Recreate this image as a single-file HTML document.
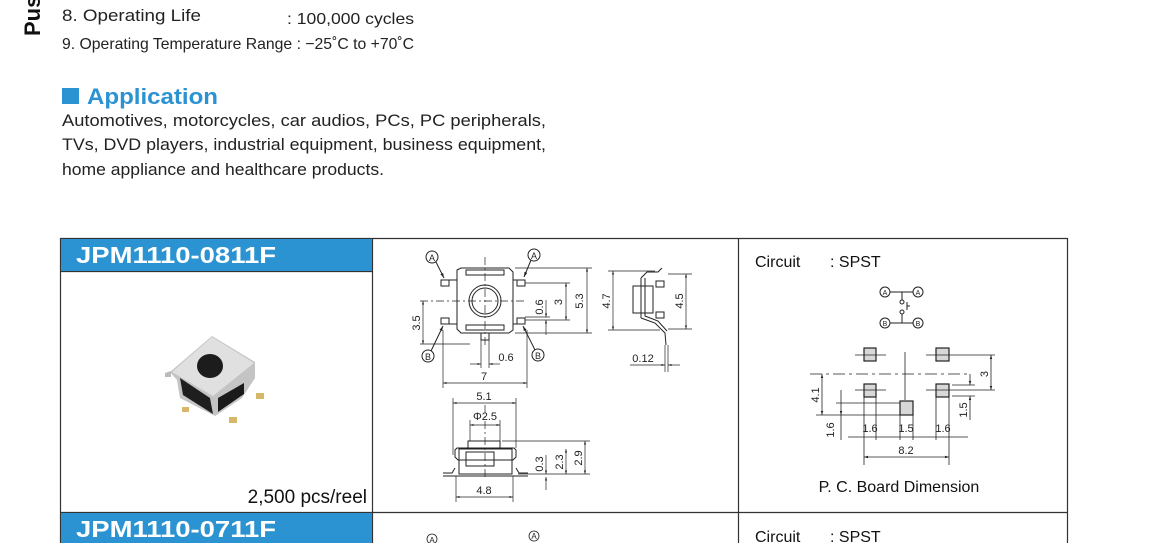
<!DOCTYPE html>
<html><head><meta charset="utf-8"><style>
html,body{margin:0;padding:0;background:#fff;width:1150px;height:543px;overflow:hidden}
svg{display:block}
text{font-family:"Liberation Sans",sans-serif}
</style></head><body>
<svg width="1150" height="543" viewBox="0 0 1150 543" xmlns="http://www.w3.org/2000/svg">
<defs>
<marker id="ar" viewBox="0 0 10 10" refX="10" refY="5" markerWidth="5" markerHeight="5" orient="auto-start-reverse"><path d="M0,2 L10,5 L0,8 z" fill="#222"/></marker>
</defs>
<text x="40" y="36" font-size="22" font-weight="bold" transform="rotate(-90 40 36)" fill="#111">Pus</text>
<text x="62" y="21" font-size="17" fill="#222" textLength="139" lengthAdjust="spacingAndGlyphs">8. Operating Life</text>
<text x="287" y="24" font-size="16" fill="#222" textLength="127" lengthAdjust="spacingAndGlyphs">: 100,000 cycles</text>
<text x="62" y="49" font-size="16" fill="#222" textLength="352" lengthAdjust="spacingAndGlyphs">9. Operating Temperature Range : −25˚C to +70˚C</text>
<rect x="62" y="88" width="17" height="16" fill="#2b93d2"/>
<text x="87" y="104" font-size="22" font-weight="bold" fill="#2b93d2" textLength="131" lengthAdjust="spacingAndGlyphs">Application</text>
<text x="62" y="126" font-size="17" fill="#222" textLength="484" lengthAdjust="spacingAndGlyphs">Automotives, motorcycles, car audios, PCs, PC peripherals,</text>
<text x="62" y="150" font-size="17" fill="#222" textLength="484" lengthAdjust="spacingAndGlyphs">TVs, DVD players, industrial equipment, business equipment,</text>
<text x="62" y="175" font-size="17" fill="#222" textLength="322" lengthAdjust="spacingAndGlyphs">home appliance and healthcare products.</text>

<g stroke="#333" stroke-width="1.2" fill="none">
<line x1="60" y1="238.5" x2="1068" y2="238.5"/>
<line x1="60" y1="512.5" x2="1068" y2="512.5"/>
<line x1="60.5" y1="238" x2="60.5" y2="543"/>
<line x1="372.5" y1="238" x2="372.5" y2="543"/>
<line x1="738.5" y1="238" x2="738.5" y2="543"/>
<line x1="1067.5" y1="238" x2="1067.5" y2="543"/>
<line x1="60" y1="271.5" x2="372" y2="271.5"/>
</g>
<rect x="61" y="239" width="311" height="32" fill="#2b93d2"/>
<rect x="61" y="513" width="311" height="30" fill="#2b93d2"/>
<text x="76" y="263" font-size="23" font-weight="bold" fill="#fff" textLength="200" lengthAdjust="spacingAndGlyphs">JPM1110-0811F</text>
<text x="76" y="537" font-size="23" font-weight="bold" fill="#fff" textLength="200" lengthAdjust="spacingAndGlyphs">JPM1110-0711F</text>
<text x="367" y="503" font-size="19" fill="#111" text-anchor="end">2,500 pcs/reel</text>

<!-- product photo -->
<g>
<polygon points="165,373 171,371 171,377 165,377" fill="#bbb"/>
<polygon points="170,372 212,336 255,362 255,378 242,398 215,416 180,398 177,380" fill="#c4c4c4"/>
<polygon points="172,372 212,337 254,363 213,396" fill="#e0e0e0"/>
<polygon points="180,378 210,398 213,414 183,395" fill="#1e1e1e"/>
<polygon points="218,398 244,383 244,394 218,412" fill="#1a1a1a"/>
<ellipse cx="210" cy="366" rx="13" ry="12" fill="#1c1c1c"/>
<rect x="182" y="407" width="7" height="5" fill="#d7b86a"/>
<rect x="229" y="417" width="8" height="6" fill="#d7b86a"/>
<rect x="256" y="393" width="8" height="6" fill="#d7b86a"/>
</g>

<g stroke="#222" stroke-width="1" fill="none">
<path d="M457,270 L461,268 L509,268 L513,272 L513,330 L509,333 L461,333 L457,329 z"/>
<rect x="466" y="270" width="38" height="5"/>
<rect x="466" y="325" width="38" height="5"/>
<circle cx="485" cy="301" r="16"/>
<circle cx="485" cy="301" r="13"/>
<rect x="481" y="333" width="8" height="7"/>
<rect x="441" y="280" width="8" height="6"/><rect x="517" y="280" width="8" height="6"/>
<rect x="441" y="318" width="8" height="6"/><rect x="517" y="318" width="8" height="6"/>
<line x1="449" y1="280" x2="457" y2="280"/><line x1="513" y1="280" x2="517" y2="280"/>
<line x1="449" y1="324" x2="457" y2="324"/><line x1="513" y1="324" x2="517" y2="324"/>
<circle cx="432" cy="257" r="6"/><circle cx="534" cy="255" r="6"/>
<circle cx="428" cy="356" r="6"/><circle cx="538" cy="355" r="6"/>
<line x1="436" y1="262" x2="444" y2="278" marker-end="url(#ar)"/>
<line x1="531" y1="260" x2="524" y2="277" marker-end="url(#ar)"/>
<line x1="431" y1="351" x2="443" y2="326" marker-end="url(#ar)"/>
<line x1="535" y1="350" x2="523" y2="326" marker-end="url(#ar)"/>
<g stroke-dasharray="8,3,2,3" stroke-width="0.7">
<line x1="485" y1="257" x2="485" y2="345"/>
<line x1="420" y1="301" x2="525" y2="301"/>
</g>
<g stroke-width="0.7">
<line x1="515" y1="268" x2="592" y2="268"/><line x1="515" y1="333" x2="592" y2="333"/>
<line x1="587" y1="268" x2="587" y2="333" marker-start="url(#ar)" marker-end="url(#ar)"/>
<line x1="525" y1="283" x2="570" y2="283"/><line x1="525" y1="320" x2="570" y2="320"/>
<line x1="566" y1="283" x2="566" y2="320" marker-start="url(#ar)" marker-end="url(#ar)"/>
<line x1="525" y1="317" x2="550" y2="317"/>
<line x1="546" y1="300" x2="546" y2="317" marker-end="url(#ar)"/><line x1="546" y1="335" x2="546" y2="320" marker-end="url(#ar)"/>
<line x1="420" y1="344" x2="470" y2="344"/>
<line x1="423" y1="301" x2="423" y2="344" marker-start="url(#ar)" marker-end="url(#ar)"/>
<line x1="443" y1="330" x2="443" y2="388"/><line x1="527" y1="330" x2="527" y2="388"/>
<line x1="443" y1="383" x2="527" y2="383" marker-start="url(#ar)" marker-end="url(#ar)"/>
<line x1="481" y1="340" x2="481" y2="368"/><line x1="489" y1="340" x2="489" y2="368"/>
<line x1="470" y1="364" x2="481" y2="364" marker-end="url(#ar)"/><line x1="500" y1="364" x2="489" y2="364" marker-end="url(#ar)"/>
</g>
<path d="M641,278 L641,318 M641,278 L647,272 L658,272 L662,268 M641,318 L655,323 L665,333 L666,345"/>
<path d="M645,278 L645,316 L658,321 L667,331"/>
<rect x="633" y="286" width="20" height="27"/>
<rect x="656" y="281" width="8" height="6"/><rect x="656" y="312" width="8" height="6"/>
<g stroke-width="0.7">
<line x1="608" y1="271" x2="655" y2="271"/><line x1="608" y1="330" x2="660" y2="330"/>
<line x1="613" y1="271" x2="613" y2="330" marker-start="url(#ar)" marker-end="url(#ar)"/>
<line x1="668" y1="274" x2="692" y2="274"/><line x1="668" y1="329" x2="692" y2="329"/>
<line x1="686" y1="274" x2="686" y2="329" marker-start="url(#ar)" marker-end="url(#ar)"/>
<line x1="665" y1="345" x2="665" y2="372"/><line x1="668" y1="345" x2="668" y2="372"/>
<line x1="630" y1="365" x2="665" y2="365" marker-end="url(#ar)"/><line x1="680" y1="365" x2="668" y2="365" marker-end="url(#ar)"/>
</g>
<path d="M455,450 L457,448 L514,448 L516,450 L516,457 L513,460 L458,460 L455,457 z"/>
<rect x="459" y="449" width="53" height="25"/>
<rect x="468" y="441" width="32" height="7"/>
<rect x="466" y="452" width="28" height="14"/>
<path d="M443,473 L452,473 L455,468 M528,473 L519,473 L516,468"/>
<line x1="443" y1="476" x2="528" y2="476"/>
<g stroke-width="0.7">
<line x1="453" y1="398" x2="453" y2="455"/><line x1="516" y1="398" x2="516" y2="448"/>
<line x1="453" y1="403" x2="516" y2="403" marker-start="url(#ar)" marker-end="url(#ar)"/>
<line x1="470" y1="420" x2="470" y2="441"/><line x1="500" y1="420" x2="500" y2="441"/>
<line x1="470" y1="425" x2="500" y2="425" marker-start="url(#ar)" marker-end="url(#ar)"/>
<line x1="456" y1="476" x2="456" y2="502"/><line x1="513" y1="476" x2="513" y2="502"/>
<line x1="456" y1="497" x2="513" y2="497" marker-start="url(#ar)" marker-end="url(#ar)"/>
<line x1="502" y1="441" x2="590" y2="441"/><line x1="518" y1="474" x2="590" y2="474"/>
<line x1="585" y1="441" x2="585" y2="474" marker-start="url(#ar)" marker-end="url(#ar)"/>
<line x1="566" y1="449" x2="566" y2="474" marker-start="url(#ar)" marker-end="url(#ar)"/>
<line x1="546" y1="455" x2="546" y2="474" marker-end="url(#ar)"/><line x1="546" y1="490" x2="546" y2="477" marker-end="url(#ar)"/>
<line x1="485" y1="405" x2="485" y2="480" stroke-dasharray="8,3,2,3"/>
</g>
</g>
<g font-size="11" fill="#222" text-anchor="middle">
<text x="432" y="261" font-size="9">A</text><text x="534" y="259" font-size="9">A</text>
<text x="428" y="360" font-size="9">B</text><text x="538" y="359" font-size="9">B</text>
<text x="484" y="380">7</text>
<text x="506" y="361">0.6</text>
<text x="643" y="362">0.12</text>
<text x="484" y="400">5.1</text>
<text x="485" y="420">Φ2.5</text>
<text x="484" y="494">4.8</text>
<text transform="translate(583,301) rotate(-90)">5.3</text>
<text transform="translate(562,302) rotate(-90)">3</text>
<text transform="translate(543,307) rotate(-90)">0.6</text>
<text transform="translate(420,323) rotate(-90)">3.5</text>
<text transform="translate(610,301) rotate(-90)">4.7</text>
<text transform="translate(683,301) rotate(-90)">4.5</text>
<text transform="translate(543,464) rotate(-90)">0.3</text>
<text transform="translate(563,462) rotate(-90)">2.3</text>
<text transform="translate(582,458) rotate(-90)">2.9</text>
</g>

<text x="755" y="267" font-size="16" fill="#111">Circuit</text>
<text x="830" y="267" font-size="16" fill="#111">: SPST</text>
<g stroke="#222" stroke-width="1" fill="none">
<circle cx="885" cy="292" r="5"/><circle cx="918" cy="292" r="5"/>
<circle cx="885" cy="323" r="5"/><circle cx="918" cy="323" r="5"/>
<line x1="890" y1="292" x2="913" y2="292"/><line x1="890" y1="323" x2="913" y2="323"/>
<line x1="902" y1="292" x2="902" y2="300"/><circle cx="902" cy="302" r="2"/>
<line x1="902" y1="323" x2="902" y2="314"/><circle cx="902" cy="312" r="2"/>
<line x1="907" y1="302" x2="907" y2="310"/><line x1="907" y1="306" x2="910" y2="306"/>
</g>
<g font-size="7" fill="#222" text-anchor="middle">
<text x="885" y="295">A</text><text x="918" y="295">A</text><text x="885" y="326">B</text><text x="918" y="326">B</text>
</g>
<g stroke="#222" stroke-width="0.8" fill="none">
<g fill="#d8d8d8" stroke-width="1.2">
<rect x="864" y="348" width="12" height="13"/><rect x="936" y="348" width="13" height="13"/>
<rect x="864" y="384" width="12" height="13"/><rect x="936" y="384" width="13" height="13"/>
<rect x="900" y="401" width="13" height="14"/>
</g>
<line x1="855" y1="355" x2="886" y2="355"/><line x1="926" y1="355" x2="995" y2="355"/>
<line x1="855" y1="390" x2="886" y2="390"/><line x1="926" y1="390" x2="995" y2="390"/>
<line x1="836" y1="403" x2="900" y2="403"/>
<line x1="816" y1="415" x2="900" y2="415"/>
<line x1="810" y1="374" x2="968" y2="374" stroke-dasharray="12,4,3,4"/>
<line x1="905" y1="352" x2="905" y2="400"/>
<line x1="952" y1="385" x2="975" y2="385"/><line x1="952" y1="396" x2="975" y2="396"/>
<line x1="822" y1="374" x2="822" y2="415" marker-start="url(#ar)" marker-end="url(#ar)"/>
<line x1="841" y1="390" x2="841" y2="415" marker-end="url(#ar)"/>
<line x1="841" y1="440" x2="841" y2="415"/>
<line x1="991" y1="355" x2="991" y2="390" marker-start="url(#ar)" marker-end="url(#ar)"/>
<line x1="970" y1="374" x2="970" y2="385" marker-end="url(#ar)"/><line x1="970" y1="420" x2="970" y2="396" marker-end="url(#ar)"/>
<line x1="864" y1="397" x2="864" y2="465"/><line x1="876" y1="397" x2="876" y2="440"/>
<line x1="900" y1="415" x2="900" y2="440"/><line x1="913" y1="415" x2="913" y2="440"/>
<line x1="936" y1="397" x2="936" y2="440"/><line x1="949" y1="397" x2="949" y2="465"/>
<line x1="848" y1="437" x2="968" y2="437"/>
<line x1="864" y1="457" x2="949" y2="457" marker-start="url(#ar)" marker-end="url(#ar)"/>
</g>
<g font-size="11" fill="#222" text-anchor="middle">
<text x="870" y="432">1.6</text><text x="906" y="432">1.5</text><text x="943" y="432">1.6</text>
<text x="906" y="454">8.2</text>
<text transform="translate(819,395) rotate(-90)">4.1</text>
<text transform="translate(834,430) rotate(-90)">1.6</text>
<text transform="translate(988,374) rotate(-90)">3</text>
<text transform="translate(967,410) rotate(-90)">1.5</text>
</g>
<text x="899" y="492" font-size="16" fill="#111" text-anchor="middle">P. C. Board Dimension</text>

<g stroke="#222" stroke-width="0.8" fill="none"><circle cx="432" cy="539" r="5"/><circle cx="534" cy="536" r="5"/></g>
<g font-size="8" fill="#222" text-anchor="middle"><text x="432" y="543">A</text><text x="534" y="539">A</text></g>
<text x="755" y="542" font-size="16" fill="#111">Circuit</text>
<text x="830" y="542" font-size="16" fill="#111">: SPST</text>
</svg>
</body></html>
